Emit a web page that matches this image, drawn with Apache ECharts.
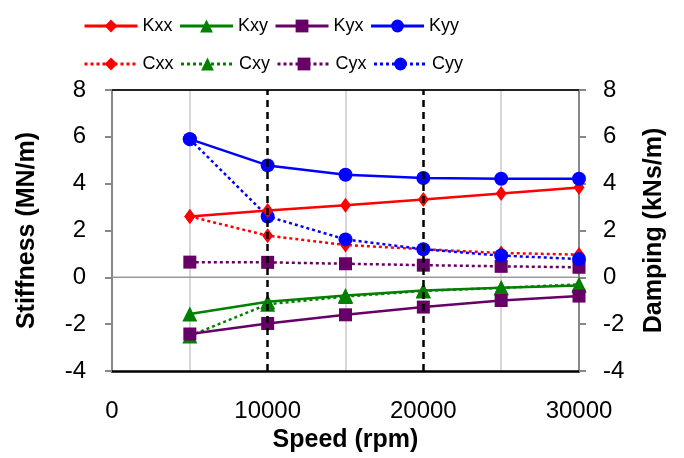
<!DOCTYPE html>
<html><head><meta charset="utf-8">
<script src="https://cdn.jsdelivr.net/npm/echarts@6/dist/echarts.min.js"></script>
<style>html,body{margin:0;padding:0;background:#fff}#c{width:684px;height:458px}</style>
</head><body><div id="c"></div>
<script>
const speeds = [5000, 10000, 15000, 20000, 25000, 30000];
const Kxx = [2.6, 2.85, 3.08, 3.32, 3.58, 3.84];
const Kxy = [-1.57, -1.04, -0.78, -0.56, -0.44, -0.35];
const Kyx = [-2.42, -1.97, -1.6, -1.27, -0.99, -0.8];
const Kyy = [5.9, 4.78, 4.38, 4.24, 4.21, 4.21];
const Cxx = [2.6, 1.78, 1.38, 1.2, 1.04, 0.97];
const Cxy = [-2.5, -1.15, -0.82, -0.58, -0.45, -0.3];
const Cyx = [0.65, 0.64, 0.58, 0.52, 0.47, 0.43];
const Cyy = [5.9, 2.6, 1.62, 1.2, 0.93, 0.78];
const dashedMarks = [10000, 20000];
const zeroLineX = [0, 30000];
const zeroLineY = 0;
const xTicks = [0, 10000, 20000, 30000];

const FONT = '"Liberation Sans", Arial, sans-serif';
const RED = '#ff0000', GREEN = '#008000', PURPLE = '#660066', BLUE = '#0000ff';

function pairs(vals){ return speeds.map((s,i)=>[s, vals[i]]); }

function mk(name, vals, color, symbol, size, dotted, yIdx){
  return {
    name, type: 'line', yAxisIndex: yIdx, data: pairs(vals),
    symbol, symbolSize: size, showSymbol: true,
    lineStyle: {color, width: 2.5, type: dotted ? [3, 3] : 'solid'},
    itemStyle: {color},
    animation: false, z: dotted ? 3 : 4
  };
}

const series = [
  mk('Kxx', Kxx, RED, 'diamond', [11, 15], false, 0),
  mk('Kxy', Kxy, GREEN, 'triangle', 15, false, 0),
  mk('Kyx', Kyx, PURPLE, 'rect', 13, false, 0),
  mk('Kyy', Kyy, BLUE, 'circle', 14, false, 0),
  mk('Cxx', Cxx, RED, 'diamond', [11, 15], true, 1),
  mk('Cxy', Cxy, GREEN, 'triangle', 15, true, 1),
  mk('Cyx', Cyx, PURPLE, 'rect', 13, true, 1),
  mk('Cyy', Cyy, BLUE, 'circle', 14, true, 1),
];
series.push({
  type: 'line', silent: true, animation: false, z: 1, symbol: 'none',
  data: zeroLineX.map(x => [x, zeroLineY]),
  lineStyle: {color: '#999', width: 1.5}
});
series.push({
  type: 'line', data: [], silent: true, animation: false, z: 2,
  markLine: {
    silent: true, symbol: 'none', label: {show: false}, animation: false,
    lineStyle: {color: '#000', width: 2.5, type: [7, 5]},
    data: dashedMarks.map(v => ({xAxis: v}))
  }
});

const legendCommon = {
  left: 78, itemWidth: 53, itemHeight: 16, itemGap: 6,
  lineStyle: {width: 3},
  textStyle: {fontFamily: FONT, fontSize: 18, color: '#000'},
  selectedMode: false
};

const yAxisBase = (pos, name, gap) => ({
  type: 'value', position: pos, min: -4, max: 8, interval: 2,
  name, nameLocation: 'middle', nameGap: gap,
  nameTextStyle: {fontFamily: FONT, fontSize: 25, fontWeight: 'bold', color: '#000'},
  axisLine: {show: true, onZero: false, lineStyle: {color: '#888', width: 2}},
  axisTick: {show: true, length: 7, lineStyle: {color: '#888', width: 2}},
  axisLabel: {fontFamily: FONT, fontSize: 24, color: '#000', margin: pos === 'left' ? 26 : 24},
  splitLine: {show: false}
});

const option = {
  backgroundColor: '#fff',
  animation: false,
  grid: {left: 112, right: 105, top: 90, bottom: 85},
  legend: [
    Object.assign({}, legendCommon, {top: 12, data: ['Kxx', 'Kxy', 'Kyx', 'Kyy']}),
    Object.assign({}, legendCommon, {top: 50, data: ['Cxx', 'Cxy', 'Cyx', 'Cyy']})
  ],
  xAxis: [{
    type: 'value', min: 0, max: 30000, interval: 5000, position: 'bottom',
    name: 'Speed (rpm)', nameLocation: 'middle', nameGap: 57,
    nameTextStyle: {fontFamily: FONT, fontSize: 25, fontWeight: 'bold', color: '#000'},
    axisLine: {show: true, onZero: false, lineStyle: {color: '#000', width: 2.5}},
    axisTick: {show: false},
    axisLabel: {fontFamily: FONT, fontSize: 24, color: '#000', margin: 28,
      formatter: v => xTicks.indexOf(v) >= 0 ? String(v) : ''},
    splitLine: {show: true, lineStyle: {color: ['rgba(0,0,0,0)', '#c8c8c8'], width: 1.5}}
  }, {
    type: 'value', min: 0, max: 30000, position: 'top',
    axisLine: {show: true, onZero: false, lineStyle: {color: '#222', width: 2}},
    axisTick: {show: false}, axisLabel: {show: false}, splitLine: {show: false}
  }],
  yAxis: [
    yAxisBase('left', 'Stiffness (MN/m)', 72),
    yAxisBase('right', 'Damping (kNs/m)', 63)
  ],
  series
};
const chart = echarts.init(document.getElementById('c'), null, {renderer: 'canvas'});
chart.setOption(option);
</script></body></html>
